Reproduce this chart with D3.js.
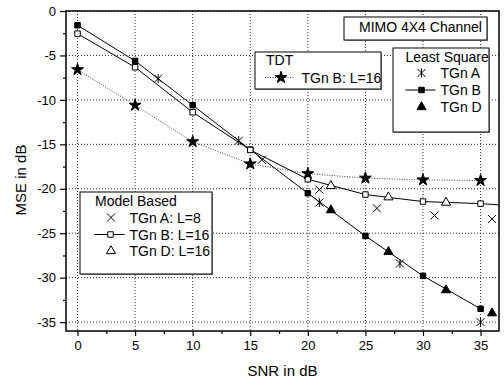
<!DOCTYPE html>
<html>
<head>
<meta charset="utf-8">
<script src="https://cdn.jsdelivr.net/npm/d3@7"></script>
<style>
body { margin: 0; background: #fff; }
svg text { font-family: "Liberation Sans", Arial, sans-serif; fill: #000; }
</style>
</head>
<body>
<svg id="viz" width="504" height="385"></svg>
<script>
// Least Square
var lsA = [[7, -7.6], [14, -14.6], [21, -21.55], [28, -28.4], [35, -35.0]];
var lsB = [[0, -1.6], [5, -5.62], [10, -10.6], [15, -15.6], [20, -20.5], [25, -25.3], [30, -29.8], [35, -33.5]];
var lsD = [[22, -22.4], [27, -27.1], [32, -31.4], [36, -34.0]];
// Model Based
var mbA = [[16, -16.75], [21, -20.1], [26, -22.2], [31, -23.0], [36, -23.4]];
var mbB = [[0, -2.55], [5, -6.33], [10, -11.39], [15, -15.63], [20, -18.93], [25, -20.65], [30, -21.44], [35, -21.67], [37, -21.85]];
var mbD = [[22, -19.68], [27, -20.95], [32, -21.55]];
// TDT
var tdtB = [[0, -6.6], [5, -10.6], [10, -14.7], [15, -17.2], [20, -18.3], [25, -18.8], [30, -19.0], [35, -19.07]];

var xTicks = [0, 5, 10, 15, 20, 25, 30, 35];
var yTicks = [0, -5, -10, -15, -20, -25, -30, -35];

var margin = {top: 11, right: 5, bottom: 54, left: 66};
var W = 504 - margin.left - margin.right;
var H = 385 - margin.top - margin.bottom;

var svg = d3.select("#viz");
var g = svg.append("g").attr("transform", "translate(" + margin.left + "," + margin.top + ")");

var x = d3.scaleLinear().domain([-1, 36.6]).range([0, W]);
var y = d3.scaleLinear().domain([-36, 0]).range([H, 0]);

svg.append("defs").append("clipPath").attr("id", "clip")
    .append("rect").attr("width", W).attr("height", H);

// grid
g.selectAll(".gx").data(xTicks).enter().append("line")
    .attr("x1", function(d){ return x(d); }).attr("x2", function(d){ return x(d); })
    .attr("y1", 0).attr("y2", H)
    .attr("stroke", "#333").attr("stroke-dasharray", "1,2");
g.selectAll(".gy").data(yTicks).enter().append("line")
    .attr("y1", function(d){ return y(d); }).attr("y2", function(d){ return y(d); })
    .attr("x1", 0).attr("x2", W)
    .attr("stroke", "#333").attr("stroke-dasharray", "1,2");

// axes
g.append("g").attr("transform", "translate(0," + H + ")")
    .call(d3.axisBottom(x).tickValues(xTicks).tickSize(5).tickPadding(5));
g.append("g").attr("transform", "translate(0," + H + ")")
    .call(d3.axisBottom(x).tickValues([2.5, 7.5, 12.5, 17.5, 22.5, 27.5, 32.5]).tickSize(3).tickFormat(""));
var yAxis = g.append("g")
    .call(d3.axisLeft(y).tickValues(yTicks).tickSize(6).tickPadding(4));
g.append("g")
    .call(d3.axisLeft(y).tickValues([-2.5, -7.5, -12.5, -17.5, -22.5, -27.5, -32.5]).tickSize(3).tickFormat(""));
g.selectAll(".domain").remove();
g.selectAll(".tick line").attr("stroke", "#000").attr("stroke-width", 1.2);
g.selectAll(".tick text").style("font-size", "13px").attr("fill", "#000");
yAxis.selectAll(".tick text").text(function(d){ return d === 0 ? "0" : "-" + Math.abs(d); });

// frame
g.append("rect").attr("width", W).attr("height", H)
    .attr("fill", "none").attr("stroke", "#000").attr("stroke-width", 1.5);

svg.append("text").attr("x", margin.left + W / 2).attr("y", 376)
    .attr("text-anchor", "middle").style("font-size", "15px").text("SNR in dB");
svg.append("text").attr("transform", "translate(26," + (margin.top + H / 2 + 9) + ") rotate(-90)")
    .attr("text-anchor", "middle").style("font-size", "15px").text("MSE in dB");

// marker shapes
function markerPath(type){
    if(type === "x") return "M-4,-4L4,4M-4,4L4,-4";
    if(type === "ast") return "M-4,-4L4,4M-4,4L4,-4M0,-4.5L0,4.5";
    if(type === "sq") return d3.symbol(d3.symbolSquare, 30)();
    if(type === "tri") return d3.symbol(d3.symbolTriangle, 36)();
    if(type === "star") return d3.symbol(d3.symbolStar, 44)();
}

function styleMarker(sel, type, filled){
    sel.attr("d", markerPath(type))
        .attr("fill", filled ? "#000" : (type === "x" || type === "ast" ? "none" : "#fff"))
        .attr("stroke", "#000").attr("stroke-width", 1);
}

function drawMarkers(parent, data, type, filled){
    parent.selectAll(null).data(data).enter().append("path")
        .attr("transform", function(d){ return "translate(" + x(d[0]) + "," + y(d[1]) + ")"; })
        .call(styleMarker, type, filled);
}

var line = d3.line().x(function(d){ return x(d[0]); }).y(function(d){ return y(d[1]); });
var plot = g.append("g").attr("clip-path", "url(#clip)");

plot.append("path").datum(tdtB).attr("d", line).attr("fill", "none")
    .attr("stroke", "#444").attr("stroke-dasharray", "1,1.5");
plot.append("path").datum(lsB).attr("d", line).attr("fill", "none").attr("stroke", "#000");
plot.append("path").datum(mbB).attr("d", line).attr("fill", "none").attr("stroke", "#000");

drawMarkers(plot, lsB, "sq", true);
drawMarkers(plot, mbB, "sq", false);
drawMarkers(plot, mbD, "tri", false);
drawMarkers(plot, lsD, "tri", true);
drawMarkers(plot, mbA, "x", false);
drawMarkers(plot, lsA, "ast", false);
drawMarkers(plot, tdtB, "star", true);

// legends
function box(x0, y0, w, h){
    svg.append("rect").attr("x", x0 + 1).attr("y", y0 + 1).attr("width", w).attr("height", h)
        .attr("fill", "#999");
    svg.append("rect").attr("x", x0).attr("y", y0).attr("width", w).attr("height", h)
        .attr("fill", "#fff").attr("stroke", "#000").attr("stroke-width", 1);
}
function label(tx, ty, s){
    svg.append("text").attr("x", tx).attr("y", ty).style("font-size", "14px").text(s);
}
function legendItem(mx, my, type, filled, lineStyle, tx, s){
    if(lineStyle){
        svg.append("line").attr("x1", mx - 16).attr("x2", mx + 14).attr("y1", my).attr("y2", my)
            .attr("stroke", lineStyle === "dot" ? "#444" : "#000")
            .attr("stroke-dasharray", lineStyle === "dot" ? "1,1.5" : null);
    }
    svg.append("path").attr("transform", "translate(" + mx + "," + my + ")")
        .call(styleMarker, type, filled);
    label(tx, my + 5, s);
}

box(344, 17, 143, 23);
label(359, 32, "MIMO 4X4 Channel");

box(255, 52, 126, 37);
label(266, 65, "TDT");
legendItem(281, 77.5, "star", true, "dot", 301.5, "TGn B: L=16");

box(393, 48, 96, 84);
label(405.5, 62, "Least Square");
legendItem(421.5, 73, "ast", false, null, 440.5, "TGn A");
legendItem(421.5, 90, "sq", true, "solid", 440.5, "TGn B");
legendItem(421.5, 107, "tri", true, null, 440.5, "TGn D");

box(80, 192, 132, 82);
label(95, 206, "Model Based");
legendItem(111, 217.5, "x", false, null, 129.5, "TGn A: L=8");
legendItem(110.5, 234.5, "sq", false, "solid", 129.5, "TGn B: L=16");
legendItem(111, 251, "tri", false, null, 129.5, "TGn D: L=16");
</script>
</body>
</html>
